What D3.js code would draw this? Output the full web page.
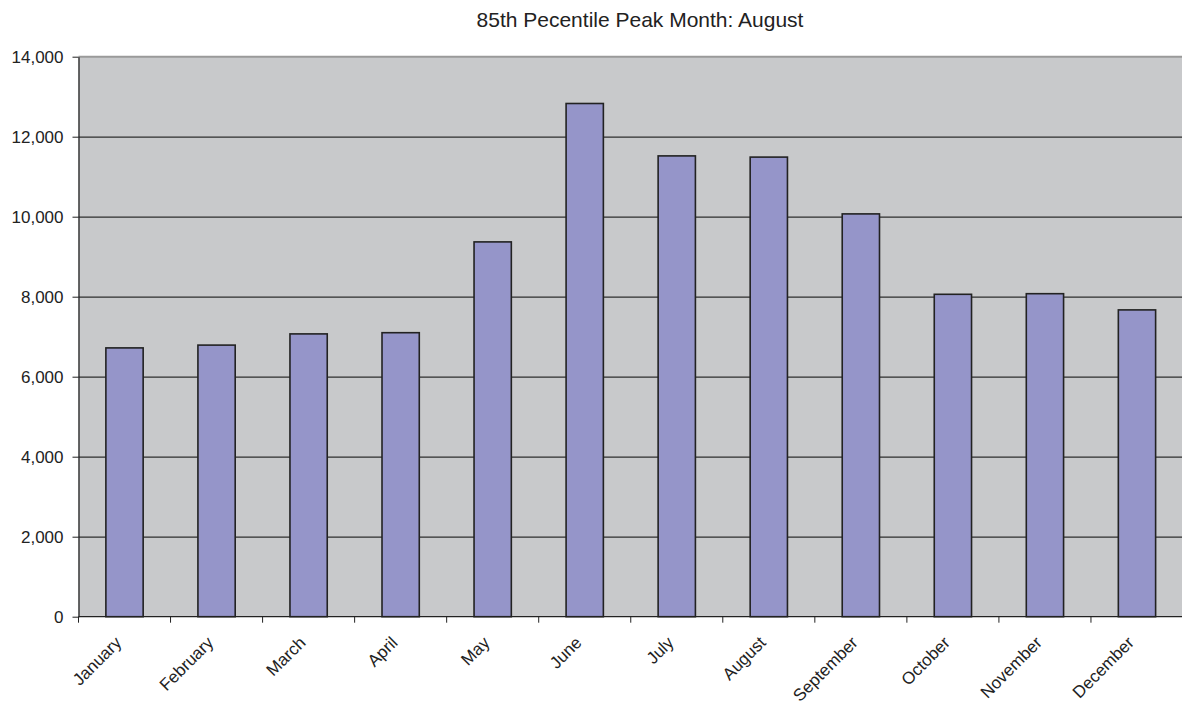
<!DOCTYPE html>
<html>
<head>
<meta charset="utf-8">
<script src="https://cdn.jsdelivr.net/npm/d3@7"></script>
<style>
  body { margin: 0; background: #fff; }
  svg { display: block; font-family: "Liberation Sans", Arial, sans-serif; }
</style>
</head>
<body>
<div id="wrapper"></div>
<script>

const months = ["January", "February", "March", "April", "May", "June",
  "July", "August", "September", "October", "November", "December"]
const volumes = [6720, 6790, 7070, 7100, 9370, 12830,
  11520, 11490, 10070, 8060, 8075, 7670]
const yTicks = [0, 2000, 4000, 6000, 8000, 10000, 12000, 14000]
const title = "85th Pecentile Peak Month: August"


// dimensions and framing
let dimensions = {
  width: 1182,
  height: 703,
  margin: {
    top: 56.7,
    right: -1,
    bottom: 86.3,
    left: 78.5,
  },
}
dimensions.boundedWidth = dimensions.width
  - dimensions.margin.left
  - dimensions.margin.right
dimensions.boundedHeight = dimensions.height
  - dimensions.margin.top
  - dimensions.margin.bottom

const wrapper = d3.select("#wrapper")
  .append("svg")
    .attr("width", dimensions.width)
    .attr("height", dimensions.height)

const bounds = wrapper.append("g")
    .attr("transform", `translate(${dimensions.margin.left}, ${dimensions.margin.top})`)


// scales
const xScale = d3.scaleBand()
  .domain(months)
  .range([0, dimensions.boundedWidth])
  .padding(0)

const yScale = d3.scaleLinear()
  .domain([0, 14000])
  .range([dimensions.boundedHeight, 0])


// plot background
bounds.append("rect")
    .attr("width", dimensions.boundedWidth)
    .attr("height", dimensions.boundedHeight)
    .attr("fill", "#c8c9cb")

bounds.append("line")
    .attr("x1", 0)
    .attr("x2", dimensions.boundedWidth)
    .attr("y1", 0)
    .attr("y2", 0)
    .attr("stroke", "#9a9a9a")
    .attr("stroke-width", 2)


// gridlines
bounds.selectAll(".grid")
    .data(yTicks.filter(d => d > 0 && d < 14000))
  .join("line")
    .attr("class", "grid")
    .attr("x1", 0)
    .attr("x2", dimensions.boundedWidth)
    .attr("y1", d => Math.round(yScale(d)) + 0.5)
    .attr("y2", d => Math.round(yScale(d)) + 0.5)
    .attr("stroke", "#2e2e2e")
    .attr("stroke-width", 1.2)


// bars
const barWidth = xScale.bandwidth() * 0.405
bounds.selectAll(".bar")
    .data(months)
  .join("rect")
    .attr("class", "bar")
    .attr("x", d => xScale(d) + (xScale.bandwidth() - barWidth) / 2)
    .attr("y", (d, i) => yScale(volumes[i]))
    .attr("width", barWidth)
    .attr("height", (d, i) => yScale(0) - yScale(volumes[i]))
    .attr("fill", "#9595c9")
    .attr("stroke", "#222")
    .attr("stroke-width", 1.6)


// y axis
const yAxisGenerator = d3.axisLeft(yScale)
  .tickValues(yTicks)
  .tickFormat(d3.format(","))
  .tickSizeInner(6)
  .tickSizeOuter(0)
  .tickPadding(9)
const yAxis = bounds.append("g")
    .call(yAxisGenerator)
yAxis.select(".domain").attr("stroke", "#222").attr("stroke-width", 1.3)
yAxis.selectAll(".tick line").attr("stroke", "#222")
yAxis.selectAll(".tick text")
    .attr("fill", "#222")
    .style("font-size", "17px")


// x axis, ticks sit between the months
const xAxis = bounds.append("g")
    .attr("transform", `translate(0, ${dimensions.boundedHeight})`)

xAxis.append("line")
    .attr("x1", 0)
    .attr("x2", dimensions.boundedWidth)
    .attr("stroke", "#222")
    .attr("stroke-width", 1.3)

xAxis.selectAll(".xtick")
    .data(months)
  .join("line")
    .attr("class", "xtick")
    .attr("x1", d => xScale(d))
    .attr("x2", d => xScale(d))
    .attr("y1", 0)
    .attr("y2", 6)
    .attr("stroke", "#222")

xAxis.selectAll(".xlabel")
    .data(months)
  .join("text")
    .attr("class", "xlabel")
    .attr("transform", d => `translate(${xScale(d) + xScale.bandwidth() / 2 - 2}, 27) rotate(-45)`)
    .attr("text-anchor", "end")
    .attr("fill", "#222")
    .style("font-size", "17px")
    .text(d => d)


// title
wrapper.append("text")
    .attr("x", 640)
    .attr("y", 27)
    .attr("text-anchor", "middle")
    .attr("fill", "#222")
    .style("font-size", "21px")
    .text(title)

</script>
</body>
</html>
